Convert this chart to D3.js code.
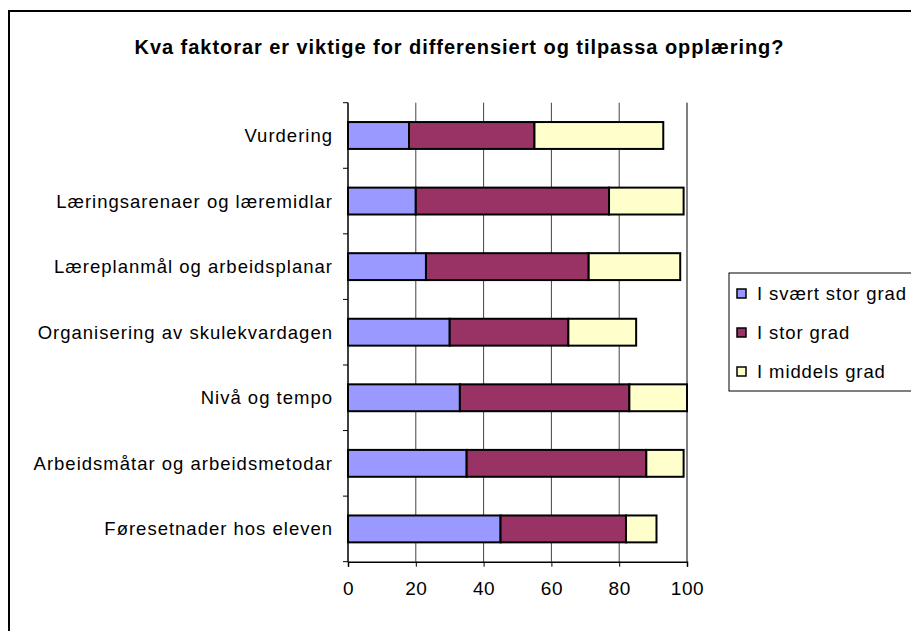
<!DOCTYPE html>
<html>
<head>
<meta charset="utf-8">
<script src="https://cdn.jsdelivr.net/npm/d3@7"></script>
<style>
  body { margin:0; background:#fff; }
  svg { display:block; font-family:"Liberation Sans", Arial, sans-serif; }
</style>
</head>
<body>
<div id="chart"></div>
<script>
// data
const title = "Kva faktorar er viktige for differensiert og tilpassa opplæring?"
const categories = ["Vurdering","Læringsarenaer og læremidlar","Læreplanmål og arbeidsplanar","Organisering av skulekvardagen","Nivå og tempo","Arbeidsmåtar og arbeidsmetodar","Føresetnader hos eleven"]
const seriesNames = ["I svært stor grad","I stor grad","I middels grad"]
const sværtStor = [18,20,23,30,33,35,45]
const stor = [37,57,48,35,50,53,37]
const middels = [38,22,27,20,17,11,9]
const xTicks = [0,20,40,60,80,100]

const colorArr = ["#9999FF","#993366","#FFFFCC"]

const w = 911, h = 631
const plot = {left:348, right:687, top:102.7, bottom:561.7}

const svg = d3.select("#chart").append("svg")
  .attr("width",w).attr("height",h)

// outer frame (runs off the right and bottom edge)
svg.append("rect")
  .attr("x",9).attr("y",11).attr("width",1000).attr("height",700)
  .attr("fill","none").attr("stroke","#000").attr("stroke-width",2)

svg.append("text")
  .attr("x",459.5).attr("y",54)
  .attr("text-anchor","middle")
  .style("font-size","20px").style("font-weight","bold")
  .style("letter-spacing","0.95px")
  .text(title)

const xScale = d3.scaleLinear().domain([0,100]).range([plot.left,plot.right])
const yScale = d3.scaleBand().domain(categories)
  .range([plot.top,plot.bottom]).paddingInner(0.59).paddingOuter(0.295)

// gridlines
svg.append("g").selectAll("line")
  .data(xTicks.slice(1))
  .enter().append("line")
  .attr("x1",d=>xScale(d)).attr("x2",d=>xScale(d))
  .attr("y1",plot.top).attr("y2",plot.bottom)
  .attr("stroke",d=> d==100 ? "#000" : "#444").attr("stroke-width",1)

// stacked bars
const rows = categories.map((c,i)=>({cat:c, v:[sværtStor[i],stor[i],middels[i]]}))
const stack = d3.stack().keys([0,1,2]).value((d,k)=>d.v[k])(rows)

svg.append("g").selectAll("g")
  .data(stack).enter().append("g")
  .attr("fill",(d,i)=>colorArr[i])
  .selectAll("rect")
  .data(d=>d).enter().append("rect")
  .attr("x",d=>xScale(d[0]))
  .attr("y",d=>yScale(d.data.cat))
  .attr("width",d=>xScale(d[1])-xScale(d[0]))
  .attr("height",yScale.bandwidth())
  .attr("stroke","#000").attr("stroke-width",2)

// left axis: ticks at band boundaries
const step = yScale.step()
const bounds = d3.range(categories.length+1).map(i=>plot.top+i*step)
const yAxisG = svg.append("g")
yAxisG.append("line")
  .attr("x1",plot.left).attr("x2",plot.left)
  .attr("y1",plot.top).attr("y2",plot.bottom)
  .attr("stroke","#000").attr("stroke-width",1.5)
yAxisG.selectAll("line.tick").data(bounds).enter().append("line")
  .attr("class","tick")
  .attr("x1",plot.left-5).attr("x2",plot.left)
  .attr("y1",d=>d).attr("y2",d=>d)
  .attr("stroke","#000")
yAxisG.selectAll("text").data(categories).enter().append("text")
  .attr("x",333)
  .attr("y",d=>yScale(d)+yScale.bandwidth()/2)
  .attr("dy","0.35em")
  .attr("text-anchor","end")
  .style("font-size","18.5px").style("letter-spacing","1px")
  .text(d=>d)

// bottom axis
const xAxis = d3.axisBottom(xScale).tickValues(xTicks).tickSize(5).tickPadding(15)
const xg = svg.append("g")
  .attr("transform",`translate(0,${plot.bottom})`)
  .call(xAxis)
xg.select(".domain").attr("stroke","#000").attr("stroke-width",1.5)
xg.selectAll("text").style("font-size","19px").style("letter-spacing","0.6px")
  .style("font-family","'Liberation Sans', Arial, sans-serif").attr("fill","#000")

// legend
const legend = svg.append("g")
legend.append("rect")
  .attr("x",729).attr("y",273).attr("width",300).attr("height",118)
  .attr("fill","#fff").attr("stroke","#000").attr("stroke-width",1)
const items = legend.selectAll("g.item").data(seriesNames).enter().append("g")
  .attr("transform",(d,i)=>`translate(737,${293.5+i*39})`)
items.append("rect")
  .attr("x",0).attr("y",-4.5).attr("width",9).attr("height",9)
  .attr("fill",(d,i)=>colorArr[i]).attr("stroke","#000").attr("stroke-width",1.5)
items.append("text")
  .attr("x",20).attr("dy","0.35em")
  .style("font-size","18.5px").style("letter-spacing","0.9px")
  .text(d=>d)
</script>
</body>
</html>
